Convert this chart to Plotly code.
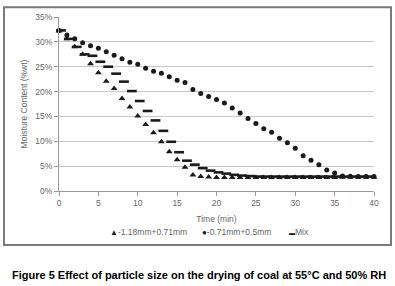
import plotly.graph_objects as go

# ---- data ----
minutes = list(range(0, 41))
mix_minutes = [m + 0.25 for m in range(0, 40)]

coarse = [32.2, 30.6, 29.0, 27.5, 25.6, 23.8, 22.1, 20.6, 18.6, 16.9,
          15.1, 13.4, 11.7, 9.9, 7.9, 6.3, 4.8, 3.2, 2.9, 2.8,
          2.7, 2.7, 2.7, 2.7, 2.7, 2.7, 2.7, 2.7, 2.7, 2.7,
          2.7, 2.7, 2.7, 2.7, 2.7, 2.7, 2.75, 2.75, 2.75, 2.75, 2.75]

fine = [32.3, 31.4, 30.6, 29.8, 29.2, 28.7, 28.0, 27.3, 26.6, 25.9,
        25.5, 24.7, 24.1, 23.7, 23.0, 22.3, 21.8, 20.4, 19.6, 19.0,
        18.4, 17.7, 16.7, 15.7, 14.6, 13.6, 12.5, 11.8, 10.6, 9.7,
        8.6, 7.1, 6.2, 5.3, 4.2, 3.6, 3.0, 2.95, 2.9, 2.9, 2.9]

mix = [32.3, 30.6, 29.0, 27.5, 27.2, 26.0, 25.0, 23.6, 22.0, 20.1,
       18.1, 16.1, 14.2, 12.1, 9.9, 7.8, 6.1, 5.3, 4.6, 4.1,
       3.75, 3.5, 3.25, 3.1, 3.0, 2.9, 2.9, 2.9, 2.9, 2.9,
       2.9, 2.9, 2.9, 2.9, 2.9, 2.9, 2.9, 2.9, 2.9, 2.9]

series_names = ["-1.18mm+0.71mm", "-0.71mm+0.5mm", "Mix"]
x_ticks = [0, 5, 10, 15, 20, 25, 30, 35, 40]
y_ticks = [0, 5, 10, 15, 20, 25, 30, 35]
y_tick_labels = [f"{v}%" for v in y_ticks]

caption = "Figure 5 Effect of particle size on the drying of coal at 55°C and 50% RH"

FONT = "Liberation Sans, Arial, sans-serif"
MK = "#1a1a1a"
GRAY_TXT = "#666666"

fig = go.Figure()
fig.add_trace(go.Scatter(x=minutes, y=coarse, mode="markers", name=series_names[0],
                         marker=dict(symbol="triangle-up", size=6, color=MK),
                         cliponaxis=False, showlegend=False))
fig.add_trace(go.Scatter(x=minutes, y=fine, mode="markers", name=series_names[1],
                         marker=dict(symbol="circle", size=5, color=MK),
                         cliponaxis=False, showlegend=False))
fig.add_trace(go.Scatter(x=mix_minutes, y=mix, mode="markers", name=series_names[2],
                         marker=dict(symbol="line-ew", size=7, color=MK,
                                     line=dict(color=MK, width=2.6)),
                         cliponaxis=False, showlegend=False))

L, R, T, B = 59, 21, 14, 95
W, H = 395, 286
pw, ph = W - L - R, H - T - B


def to_px(xpix):
    return (xpix - L) / pw


def to_py(ypix):
    return 1 - (ypix - T) / ph


fig.update_layout(
    width=W, height=H,
    margin=dict(l=L, r=R, t=T, b=B, pad=0),
    paper_bgcolor="white", plot_bgcolor="white",
    font=dict(family=FONT, size=8.5, color=GRAY_TXT),
    xaxis=dict(range=[0, 40], tickvals=x_ticks, showgrid=False, zeroline=False,
               showline=True, linecolor="#9a9a9a", linewidth=1,
               ticks="outside", ticklen=4, tickcolor="#9a9a9a",
               tickfont=dict(size=8.5, color=GRAY_TXT),
               title=dict(text="Time (min)", font=dict(size=8.5, color=GRAY_TXT), standoff=8)),
    yaxis=dict(range=[0, 35], tickmode="array", tickvals=y_ticks, ticktext=y_tick_labels,
               showgrid=True, gridcolor="#c8c8c8", gridwidth=1, zeroline=False,
               showline=True, linecolor="#9a9a9a", linewidth=1,
               ticks="outside", ticklen=4, tickcolor="#9a9a9a",
               tickfont=dict(size=8.5, color=GRAY_TXT),
               title=dict(text="Moisture Content (%wt)", font=dict(size=8.5, color=GRAY_TXT), standoff=6)),
    shapes=[dict(type="rect", xref="paper", yref="paper",
                 x0=to_px(4), x1=to_px(391), y0=to_py(246), y1=to_py(4),
                 line=dict(color="#7a7a7a", width=2))],
)

# legend built from text glyphs
legend_items = [("▲", series_names[0], 108, 8), ("●", series_names[1], 200, 8), ("▬", series_names[2], 287, 6)]
for glyph, name, xpix, gsize in legend_items:
    fig.add_annotation(xref="paper", yref="paper", x=to_px(xpix), y=to_py(233),
                       xanchor="left", yanchor="middle", showarrow=False,
                       text=f"<span style='font-size:{gsize}px;color:{MK}'>{glyph}</span>{name}",
                       font=dict(size=8.5, color=GRAY_TXT, family=FONT))

# caption
fig.add_annotation(xref="paper", yref="paper", x=to_px(198.5), y=to_py(276),
                   xanchor="center", yanchor="middle", showarrow=False,
                   text=f"<b>{caption}</b>", font=dict(size=11, color="#000000", family=FONT))

fig.write_html("out.html", config={"displayModeBar": False},
               post_script="document.body.style.margin='0px';document.body.style.padding='0px';")
